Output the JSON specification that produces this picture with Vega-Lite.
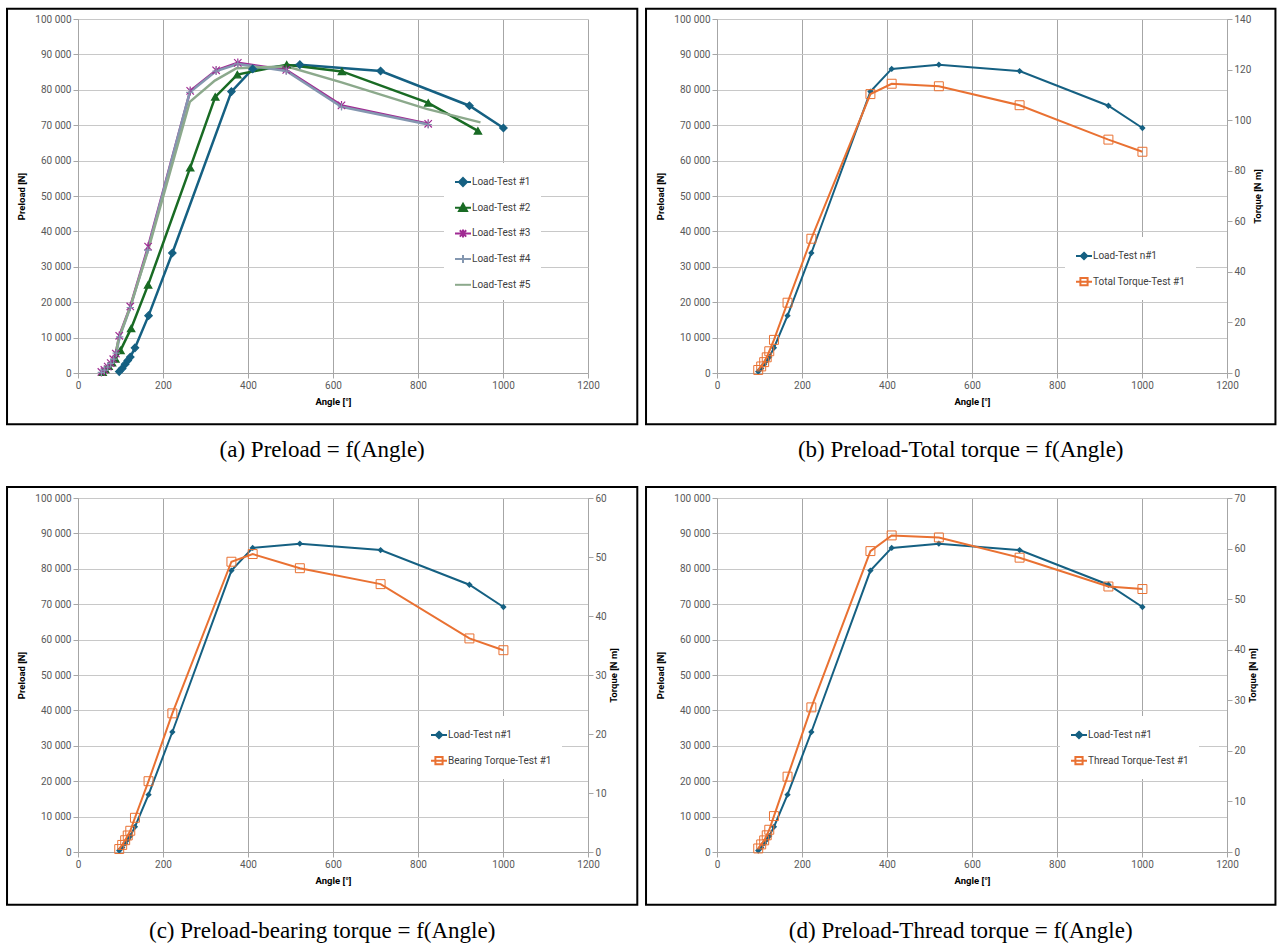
{
  "$schema": "https://vega.github.io/schema/vega-lite/v6.json",
  "padding": {"left": 6, "top": 7, "right": 2, "bottom": 2},
  "autosize": {"type": "pad"},
  "background": "white",
  "config": {
    "locale": {"number": {"decimal": ",", "thousands": " ", "grouping": [3], "currency": ["", ""]}},
    "view": {"stroke": null},
    "axis": {"labelFont": "Roboto", "labelFontSize": 10, "labelColor": "#595959", "titleFont": "Roboto", "titleFontSize": 9.5, "titleFontWeight": "bold", "titleColor": "#000000", "domainColor": "#a6a6a6", "tickColor": "#a6a6a6", "tickSize": 5, "labelPadding": 2, "labelFlush": false, "labelOverlap": false},
    "axisX": {"gridColor": "#a6a6a6", "titlePadding": 6},
    "axisY": {"gridColor": "#c8c8c8", "titlePadding": 8},
    "legend": {"labelFont": "Roboto", "labelFontSize": 10, "labelColor": "#404040", "symbolSize": 256, "symbolStrokeWidth": 2, "labelOffset": 0, "rowPadding": 8.7, "padding": 10, "fillColor": "white", "title": null}
  },
  "datasets": {
    "load": [
      {"series": "Load-Test #1", "angle": 97, "preload": 400},
      {"series": "Load-Test #1", "angle": 104, "preload": 1300},
      {"series": "Load-Test #1", "angle": 111, "preload": 2500},
      {"series": "Load-Test #1", "angle": 117, "preload": 3500},
      {"series": "Load-Test #1", "angle": 123, "preload": 4500},
      {"series": "Load-Test #1", "angle": 134, "preload": 7100},
      {"series": "Load-Test #1", "angle": 166, "preload": 16200},
      {"series": "Load-Test #1", "angle": 222, "preload": 33900},
      {"series": "Load-Test #1", "angle": 361, "preload": 79500},
      {"series": "Load-Test #1", "angle": 411, "preload": 85900},
      {"series": "Load-Test #1", "angle": 522, "preload": 87100},
      {"series": "Load-Test #1", "angle": 712, "preload": 85300},
      {"series": "Load-Test #1", "angle": 921, "preload": 75500},
      {"series": "Load-Test #1", "angle": 1001, "preload": 69200},
      {"series": "Load-Test #2", "angle": 58, "preload": 200},
      {"series": "Load-Test #2", "angle": 64, "preload": 1000},
      {"series": "Load-Test #2", "angle": 72, "preload": 1900},
      {"series": "Load-Test #2", "angle": 80, "preload": 2900},
      {"series": "Load-Test #2", "angle": 88, "preload": 4000},
      {"series": "Load-Test #2", "angle": 100, "preload": 6400},
      {"series": "Load-Test #2", "angle": 125, "preload": 12600},
      {"series": "Load-Test #2", "angle": 165, "preload": 24900},
      {"series": "Load-Test #2", "angle": 264, "preload": 58000},
      {"series": "Load-Test #2", "angle": 323, "preload": 78000},
      {"series": "Load-Test #2", "angle": 375, "preload": 84300},
      {"series": "Load-Test #2", "angle": 491, "preload": 87100},
      {"series": "Load-Test #2", "angle": 621, "preload": 85200},
      {"series": "Load-Test #2", "angle": 824, "preload": 76300},
      {"series": "Load-Test #2", "angle": 941, "preload": 68400},
      {"series": "Load-Test #3", "angle": 55, "preload": 300},
      {"series": "Load-Test #3", "angle": 62, "preload": 900},
      {"series": "Load-Test #3", "angle": 70, "preload": 1800},
      {"series": "Load-Test #3", "angle": 77, "preload": 2800},
      {"series": "Load-Test #3", "angle": 83, "preload": 3900},
      {"series": "Load-Test #3", "angle": 89, "preload": 5500},
      {"series": "Load-Test #3", "angle": 97, "preload": 10500},
      {"series": "Load-Test #3", "angle": 123, "preload": 18800},
      {"series": "Load-Test #3", "angle": 165, "preload": 35700},
      {"series": "Load-Test #3", "angle": 264, "preload": 79700},
      {"series": "Load-Test #3", "angle": 325, "preload": 85500},
      {"series": "Load-Test #3", "angle": 376, "preload": 87600},
      {"series": "Load-Test #3", "angle": 490, "preload": 85600},
      {"series": "Load-Test #3", "angle": 620, "preload": 75600},
      {"series": "Load-Test #3", "angle": 824, "preload": 70400},
      {"series": "Load-Test #4", "angle": 55, "preload": 200},
      {"series": "Load-Test #4", "angle": 62, "preload": 800},
      {"series": "Load-Test #4", "angle": 70, "preload": 1700},
      {"series": "Load-Test #4", "angle": 77, "preload": 2700},
      {"series": "Load-Test #4", "angle": 84, "preload": 3900},
      {"series": "Load-Test #4", "angle": 90, "preload": 5600},
      {"series": "Load-Test #4", "angle": 98, "preload": 10200},
      {"series": "Load-Test #4", "angle": 123, "preload": 18500},
      {"series": "Load-Test #4", "angle": 164, "preload": 34700},
      {"series": "Load-Test #4", "angle": 263, "preload": 79300},
      {"series": "Load-Test #4", "angle": 325, "preload": 85300},
      {"series": "Load-Test #4", "angle": 376, "preload": 87300},
      {"series": "Load-Test #4", "angle": 490, "preload": 85300},
      {"series": "Load-Test #4", "angle": 620, "preload": 75200},
      {"series": "Load-Test #4", "angle": 824, "preload": 70200},
      {"series": "Load-Test #5", "angle": 56, "preload": 300},
      {"series": "Load-Test #5", "angle": 63, "preload": 1000},
      {"series": "Load-Test #5", "angle": 71, "preload": 2000},
      {"series": "Load-Test #5", "angle": 79, "preload": 3200},
      {"series": "Load-Test #5", "angle": 87, "preload": 4800},
      {"series": "Load-Test #5", "angle": 96, "preload": 9800},
      {"series": "Load-Test #5", "angle": 122, "preload": 18400},
      {"series": "Load-Test #5", "angle": 164, "preload": 34300},
      {"series": "Load-Test #5", "angle": 263, "preload": 76600},
      {"series": "Load-Test #5", "angle": 322, "preload": 82600},
      {"series": "Load-Test #5", "angle": 373, "preload": 86100},
      {"series": "Load-Test #5", "angle": 492, "preload": 86600},
      {"series": "Load-Test #5", "angle": 620, "preload": 82100},
      {"series": "Load-Test #5", "angle": 820, "preload": 74600},
      {"series": "Load-Test #5", "angle": 947, "preload": 70800}
    ],
    "torque": [
      {"series": "Total Torque-Test #1", "angle": 97, "torque": 1.2},
      {"series": "Total Torque-Test #1", "angle": 104, "torque": 2.6},
      {"series": "Total Torque-Test #1", "angle": 111, "torque": 4.3},
      {"series": "Total Torque-Test #1", "angle": 117, "torque": 6.2},
      {"series": "Total Torque-Test #1", "angle": 123, "torque": 8.6},
      {"series": "Total Torque-Test #1", "angle": 134, "torque": 13.1},
      {"series": "Total Torque-Test #1", "angle": 166, "torque": 27.8},
      {"series": "Total Torque-Test #1", "angle": 222, "torque": 53.1},
      {"series": "Total Torque-Test #1", "angle": 361, "torque": 110.3},
      {"series": "Total Torque-Test #1", "angle": 411, "torque": 114.4},
      {"series": "Total Torque-Test #1", "angle": 522, "torque": 113.4},
      {"series": "Total Torque-Test #1", "angle": 712, "torque": 105.9},
      {"series": "Total Torque-Test #1", "angle": 921, "torque": 92.3},
      {"series": "Total Torque-Test #1", "angle": 1001, "torque": 87.5},
      {"series": "Bearing Torque-Test #1", "angle": 97, "torque": 0.5},
      {"series": "Bearing Torque-Test #1", "angle": 104, "torque": 1.2},
      {"series": "Bearing Torque-Test #1", "angle": 111, "torque": 2.0},
      {"series": "Bearing Torque-Test #1", "angle": 117, "torque": 2.8},
      {"series": "Bearing Torque-Test #1", "angle": 123, "torque": 3.6},
      {"series": "Bearing Torque-Test #1", "angle": 134, "torque": 5.8},
      {"series": "Bearing Torque-Test #1", "angle": 166, "torque": 12.0},
      {"series": "Bearing Torque-Test #1", "angle": 222, "torque": 23.5},
      {"series": "Bearing Torque-Test #1", "angle": 361, "torque": 49.2},
      {"series": "Bearing Torque-Test #1", "angle": 411, "torque": 50.5},
      {"series": "Bearing Torque-Test #1", "angle": 522, "torque": 48.1},
      {"series": "Bearing Torque-Test #1", "angle": 712, "torque": 45.4},
      {"series": "Bearing Torque-Test #1", "angle": 921, "torque": 36.2},
      {"series": "Bearing Torque-Test #1", "angle": 1001, "torque": 34.2},
      {"series": "Thread Torque-Test #1", "angle": 97, "torque": 0.7},
      {"series": "Thread Torque-Test #1", "angle": 104, "torque": 1.5},
      {"series": "Thread Torque-Test #1", "angle": 111, "torque": 2.3},
      {"series": "Thread Torque-Test #1", "angle": 117, "torque": 3.3},
      {"series": "Thread Torque-Test #1", "angle": 123, "torque": 4.4},
      {"series": "Thread Torque-Test #1", "angle": 134, "torque": 7.1},
      {"series": "Thread Torque-Test #1", "angle": 166, "torque": 14.9},
      {"series": "Thread Torque-Test #1", "angle": 222, "torque": 28.6},
      {"series": "Thread Torque-Test #1", "angle": 361, "torque": 59.5},
      {"series": "Thread Torque-Test #1", "angle": 411, "torque": 62.6},
      {"series": "Thread Torque-Test #1", "angle": 522, "torque": 62.2},
      {"series": "Thread Torque-Test #1", "angle": 712, "torque": 58.2},
      {"series": "Thread Torque-Test #1", "angle": 921, "torque": 52.5},
      {"series": "Thread Torque-Test #1", "angle": 1001, "torque": 52.0}
    ]
  },
  "columns": 2,
  "spacing": {"row": 125, "column": 129},
  "bounds": "flush",
  "resolve": {"scale": {"color": "independent", "shape": "independent", "stroke": "independent", "fill": "independent"}, "legend": {"color": "independent"}},
  "concat": [
    {
      "width": 510, "height": 354,
      "title": {"text": "(a) Preload = f(Angle)", "orient": "bottom", "frame": "bounds", "anchor": "middle", "offset": 14, "font": "Liberation Serif", "fontSize": 23, "fontWeight": "normal", "color": "#000000"},
      "layer": [
        {
          "data": {"values": [{"frame": 1}]},
          "mark": {"type": "rect", "fill": "transparent", "stroke": "#000000", "strokeWidth": 2},
          "encoding": {
            "x": {"datum": -167, "type": "quantitative", "scale": {"domain": [0, 1200], "nice": false}},
            "x2": {"datum": 1316},
            "y": {"datum": 102900, "type": "quantitative", "scale": {"domain": [0, 100000], "nice": false}},
            "y2": {"datum": -14500}
          }
        },
        {
          "data": {"name": "load"},
          "mark": {"type": "line", "strokeWidth": 2.5},
          "encoding": {
            "x": {"field": "angle", "type": "quantitative", "scale": {"domain": [0, 1200], "nice": false}, "axis": {"title": "Angle [°]", "values": [0, 200, 400, 600, 800, 1000, 1200], "format": "d", "grid": true, "labelOverlap": false}},
            "y": {"field": "preload", "type": "quantitative", "scale": {"domain": [0, 100000], "nice": false}, "axis": {"title": "Preload [N]", "values": [0, 10000, 20000, 30000, 40000, 50000, 60000, 70000, 80000, 90000, 100000], "format": ",d", "grid": true, "labelOverlap": false, "tickCount": 11}},
            "color": {
              "field": "series", "type": "nominal",
              "scale": {"domain": ["Load-Test #1", "Load-Test #2", "Load-Test #3", "Load-Test #4", "Load-Test #5"], "range": ["#156082", "#196B24", "#A02B93", "#8497B0", "#8CA98C"]},
              "legend": {
                "orient": "none", "legendX": 366, "legendY": 144,
                "encode": {"symbols": {"update": {
                  "shape": {"signal": "datum.value === 'Load-Test #1' ? 'M-1,0L1,0M0,-0.5L0.5,0L0,0.5L-0.5,0Z' : datum.value === 'Load-Test #2' ? 'M-1,0L1,0M0,-0.5L0.5,0.4L-0.5,0.4Z' : datum.value === 'Load-Test #3' ? 'M-1,0L1,0M-0.4,-0.4L0.4,0.4M-0.4,0.4L0.4,-0.4M0,-0.5L0,0.5' : datum.value === 'Load-Test #4' ? 'M-1,0L1,0M0,-0.5L0,0.5' : 'M-1,0L1,0'"},
                  "fill": {"signal": "datum.value === 'Load-Test #1' ? '#156082' : datum.value === 'Load-Test #2' ? '#196B24' : 'transparent'"}
                }}}
              }
            }
          }
        },
        {
          "data": {"name": "load"},
          "transform": [{"filter": "datum.series !== 'Load-Test #5'"}],
          "mark": {"type": "point", "opacity": 1, "strokeWidth": 1.2, "size": 55},
          "encoding": {
            "x": {"field": "angle", "type": "quantitative"},
            "y": {"field": "preload", "type": "quantitative"},
            "shape": {"field": "series", "type": "nominal", "legend": null, "scale": {"domain": ["Load-Test #1", "Load-Test #2", "Load-Test #3", "Load-Test #4"], "range": ["diamond", "triangle-up", "M-1,-1L1,1M-1,1L1,-1M0,-1.2L0,1.2", "M-1,0L1,0M0,-1L0,1"]}},
            "stroke": {"field": "series", "type": "nominal", "legend": null, "scale": {"domain": ["Load-Test #1", "Load-Test #2", "Load-Test #3", "Load-Test #4"], "range": ["#156082", "#196B24", "#A02B93", "#8497B0"]}},
            "fill": {"field": "series", "type": "nominal", "legend": null, "scale": {"domain": ["Load-Test #1", "Load-Test #2", "Load-Test #3", "Load-Test #4"], "range": ["#156082", "#196B24", "transparent", "transparent"]}}
          }
        }
      ]
    },
    {
      "width": 510, "height": 354,
      "title": {"text": "(b) Preload-Total torque = f(Angle)", "orient": "bottom", "frame": "bounds", "anchor": "middle", "offset": 14, "font": "Liberation Serif", "fontSize": 23, "fontWeight": "normal", "color": "#000000"},
      "resolve": {"scale": {"y": "independent"}},
      "layer": [
        {
          "layer": [
            {
              "data": {"values": [{"frame": 1}]},
              "mark": {"type": "rect", "fill": "transparent", "stroke": "#000000", "strokeWidth": 2},
              "encoding": {
                "x": {"datum": -167, "type": "quantitative", "scale": {"domain": [0, 1200], "nice": false}},
                "x2": {"datum": 1314},
                "y": {"datum": 102900, "type": "quantitative", "scale": {"domain": [0, 100000], "nice": false}},
                "y2": {"datum": -14500}
              }
            },
            {
              "data": {"name": "load"},
              "transform": [{"filter": "datum.series === 'Load-Test #1'"}],
              "mark": {"type": "line", "strokeWidth": 2},
              "encoding": {
                "x": {"field": "angle", "type": "quantitative", "scale": {"domain": [0, 1200], "nice": false}, "axis": {"title": "Angle [°]", "values": [0, 200, 400, 600, 800, 1000, 1200], "format": "d", "grid": true, "labelOverlap": false}},
                "y": {"field": "preload", "type": "quantitative", "scale": {"domain": [0, 100000], "nice": false}, "axis": {"title": "Preload [N]", "values": [0, 10000, 20000, 30000, 40000, 50000, 60000, 70000, 80000, 90000, 100000], "format": ",d", "grid": true, "labelOverlap": false, "tickCount": 11}},
                "color": {
                  "field": "series", "type": "nominal",
                  "scale": {"domain": ["Load-Test #1", "Total Torque-Test #1"], "range": ["#156082", "#E97132"]},
                  "legend": {
                    "orient": "none", "legendX": 348, "legendY": 218,
                    "labelExpr": "datum.label === 'Load-Test #1' ? 'Load-Test n#1' : datum.label",
                    "encode": {"symbols": {"update": {
                      "shape": {"signal": "datum.value === 'Load-Test #1' ? 'M-1,0L1,0M0,-0.4L0.4,0L0,0.4L-0.4,0Z' : 'M-1,0L1,0M-0.45,-0.45L0.45,-0.45L0.45,0.45L-0.45,0.45Z'"},
                      "fill": {"signal": "datum.value === 'Load-Test #1' ? '#156082' : 'transparent'"}
                    }}}
                  }
                }
              }
            },
            {
              "data": {"name": "load"},
              "transform": [{"filter": "datum.series === 'Load-Test #1'"}],
              "mark": {"type": "point", "shape": "diamond", "filled": true, "opacity": 1, "size": 40, "color": "#156082"},
              "encoding": {
                "x": {"field": "angle", "type": "quantitative"},
                "y": {"field": "preload", "type": "quantitative"}
              }
            }
          ]
        },
        {
          "layer": [
            {
              "data": {"name": "torque"},
              "transform": [{"filter": "datum.series === 'Total Torque-Test #1'"}],
              "mark": {"type": "line", "strokeWidth": 2},
              "encoding": {
                "x": {"field": "angle", "type": "quantitative"},
                "y": {"field": "torque", "type": "quantitative", "scale": {"domain": [0, 140], "nice": false}, "axis": {"title": "Torque [N m]", "orient": "right", "values": [0, 20, 40, 60, 80, 100, 120, 140], "grid": false, "titleAngle": 270, "titlePadding": 12, "labelOverlap": false}},
                "color": {"field": "series", "type": "nominal"}
              }
            },
            {
              "data": {"name": "torque"},
              "transform": [{"filter": "datum.series === 'Total Torque-Test #1'"}],
              "mark": {"type": "point", "shape": "square", "filled": false, "opacity": 1, "size": 80, "strokeWidth": 1, "color": "#E97132"},
              "encoding": {
                "x": {"field": "angle", "type": "quantitative"},
                "y": {"field": "torque", "type": "quantitative"}
              }
            }
          ]
        }
      ]
    },
    {
      "width": 510, "height": 354,
      "title": {"text": "(c) Preload-bearing torque = f(Angle)", "orient": "bottom", "frame": "bounds", "anchor": "middle", "offset": 14, "font": "Liberation Serif", "fontSize": 23, "fontWeight": "normal", "color": "#000000"},
      "resolve": {"scale": {"y": "independent"}},
      "layer": [
        {
          "layer": [
            {
              "data": {"values": [{"frame": 1}]},
              "mark": {"type": "rect", "fill": "transparent", "stroke": "#000000", "strokeWidth": 2},
              "encoding": {
                "x": {"datum": -167, "type": "quantitative", "scale": {"domain": [0, 1200], "nice": false}},
                "x2": {"datum": 1316},
                "y": {"datum": 103100, "type": "quantitative", "scale": {"domain": [0, 100000], "nice": false}},
                "y2": {"datum": -14900}
              }
            },
            {
              "data": {"name": "load"},
              "transform": [{"filter": "datum.series === 'Load-Test #1'"}],
              "mark": {"type": "line", "strokeWidth": 2},
              "encoding": {
                "x": {"field": "angle", "type": "quantitative", "scale": {"domain": [0, 1200], "nice": false}, "axis": {"title": "Angle [°]", "values": [0, 200, 400, 600, 800, 1000, 1200], "format": "d", "grid": true, "labelOverlap": false}},
                "y": {"field": "preload", "type": "quantitative", "scale": {"domain": [0, 100000], "nice": false}, "axis": {"title": "Preload [N]", "values": [0, 10000, 20000, 30000, 40000, 50000, 60000, 70000, 80000, 90000, 100000], "format": ",d", "grid": true, "labelOverlap": false, "tickCount": 11}},
                "color": {
                  "field": "series", "type": "nominal",
                  "scale": {"domain": ["Load-Test #1", "Bearing Torque-Test #1"], "range": ["#156082", "#E97132"]},
                  "legend": {
                    "orient": "none", "legendX": 342, "legendY": 218,
                    "labelExpr": "datum.label === 'Load-Test #1' ? 'Load-Test n#1' : datum.label",
                    "encode": {"symbols": {"update": {
                      "shape": {"signal": "datum.value === 'Load-Test #1' ? 'M-1,0L1,0M0,-0.4L0.4,0L0,0.4L-0.4,0Z' : 'M-1,0L1,0M-0.45,-0.45L0.45,-0.45L0.45,0.45L-0.45,0.45Z'"},
                      "fill": {"signal": "datum.value === 'Load-Test #1' ? '#156082' : 'transparent'"}
                    }}}
                  }
                }
              }
            },
            {
              "data": {"name": "load"},
              "transform": [{"filter": "datum.series === 'Load-Test #1'"}],
              "mark": {"type": "point", "shape": "diamond", "filled": true, "opacity": 1, "size": 40, "color": "#156082"},
              "encoding": {
                "x": {"field": "angle", "type": "quantitative"},
                "y": {"field": "preload", "type": "quantitative"}
              }
            }
          ]
        },
        {
          "layer": [
            {
              "data": {"name": "torque"},
              "transform": [{"filter": "datum.series === 'Bearing Torque-Test #1'"}],
              "mark": {"type": "line", "strokeWidth": 2},
              "encoding": {
                "x": {"field": "angle", "type": "quantitative"},
                "y": {"field": "torque", "type": "quantitative", "scale": {"domain": [0, 60], "nice": false}, "axis": {"title": "Torque [N m]", "orient": "right", "values": [0, 10, 20, 30, 40, 50, 60], "grid": false, "titleAngle": 270, "titlePadding": 12, "labelOverlap": false}},
                "color": {"field": "series", "type": "nominal"}
              }
            },
            {
              "data": {"name": "torque"},
              "transform": [{"filter": "datum.series === 'Bearing Torque-Test #1'"}],
              "mark": {"type": "point", "shape": "square", "filled": false, "opacity": 1, "size": 80, "strokeWidth": 1, "color": "#E97132"},
              "encoding": {
                "x": {"field": "angle", "type": "quantitative"},
                "y": {"field": "torque", "type": "quantitative"}
              }
            }
          ]
        }
      ]
    },
    {
      "width": 510, "height": 354,
      "title": {"text": "(d) Preload-Thread torque = f(Angle)", "orient": "bottom", "frame": "bounds", "anchor": "middle", "offset": 14, "font": "Liberation Serif", "fontSize": 23, "fontWeight": "normal", "color": "#000000"},
      "resolve": {"scale": {"y": "independent"}},
      "layer": [
        {
          "layer": [
            {
              "data": {"values": [{"frame": 1}]},
              "mark": {"type": "rect", "fill": "transparent", "stroke": "#000000", "strokeWidth": 2},
              "encoding": {
                "x": {"datum": -167, "type": "quantitative", "scale": {"domain": [0, 1200], "nice": false}},
                "x2": {"datum": 1314},
                "y": {"datum": 103100, "type": "quantitative", "scale": {"domain": [0, 100000], "nice": false}},
                "y2": {"datum": -14900}
              }
            },
            {
              "data": {"name": "load"},
              "transform": [{"filter": "datum.series === 'Load-Test #1'"}],
              "mark": {"type": "line", "strokeWidth": 2},
              "encoding": {
                "x": {"field": "angle", "type": "quantitative", "scale": {"domain": [0, 1200], "nice": false}, "axis": {"title": "Angle [°]", "values": [0, 200, 400, 600, 800, 1000, 1200], "format": "d", "grid": true, "labelOverlap": false}},
                "y": {"field": "preload", "type": "quantitative", "scale": {"domain": [0, 100000], "nice": false}, "axis": {"title": "Preload [N]", "values": [0, 10000, 20000, 30000, 40000, 50000, 60000, 70000, 80000, 90000, 100000], "format": ",d", "grid": true, "labelOverlap": false, "tickCount": 11}},
                "color": {
                  "field": "series", "type": "nominal",
                  "scale": {"domain": ["Load-Test #1", "Thread Torque-Test #1"], "range": ["#156082", "#E97132"]},
                  "legend": {
                    "orient": "none", "legendX": 343, "legendY": 218,
                    "labelExpr": "datum.label === 'Load-Test #1' ? 'Load-Test n#1' : datum.label",
                    "encode": {"symbols": {"update": {
                      "shape": {"signal": "datum.value === 'Load-Test #1' ? 'M-1,0L1,0M0,-0.4L0.4,0L0,0.4L-0.4,0Z' : 'M-1,0L1,0M-0.45,-0.45L0.45,-0.45L0.45,0.45L-0.45,0.45Z'"},
                      "fill": {"signal": "datum.value === 'Load-Test #1' ? '#156082' : 'transparent'"}
                    }}}
                  }
                }
              }
            },
            {
              "data": {"name": "load"},
              "transform": [{"filter": "datum.series === 'Load-Test #1'"}],
              "mark": {"type": "point", "shape": "diamond", "filled": true, "opacity": 1, "size": 40, "color": "#156082"},
              "encoding": {
                "x": {"field": "angle", "type": "quantitative"},
                "y": {"field": "preload", "type": "quantitative"}
              }
            }
          ]
        },
        {
          "layer": [
            {
              "data": {"name": "torque"},
              "transform": [{"filter": "datum.series === 'Thread Torque-Test #1'"}],
              "mark": {"type": "line", "strokeWidth": 2},
              "encoding": {
                "x": {"field": "angle", "type": "quantitative"},
                "y": {"field": "torque", "type": "quantitative", "scale": {"domain": [0, 70], "nice": false}, "axis": {"title": "Torque [N m]", "orient": "right", "values": [0, 10, 20, 30, 40, 50, 60, 70], "grid": false, "titleAngle": 270, "titlePadding": 12, "labelOverlap": false}},
                "color": {"field": "series", "type": "nominal"}
              }
            },
            {
              "data": {"name": "torque"},
              "transform": [{"filter": "datum.series === 'Thread Torque-Test #1'"}],
              "mark": {"type": "point", "shape": "square", "filled": false, "opacity": 1, "size": 80, "strokeWidth": 1, "color": "#E97132"},
              "encoding": {
                "x": {"field": "angle", "type": "quantitative"},
                "y": {"field": "torque", "type": "quantitative"}
              }
            }
          ]
        }
      ]
    }
  ]
}
